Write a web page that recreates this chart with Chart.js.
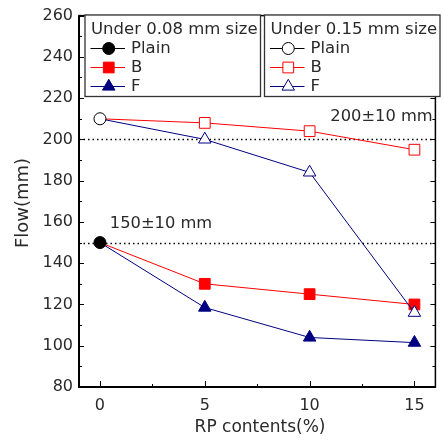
<!DOCTYPE html>
<html>
<head>
<meta charset="utf-8">
<script src="https://cdn.jsdelivr.net/npm/chart.js@4/dist/chart.umd.min.js"></script>
<style>
html,body{margin:0;padding:0;background:#fff;}
#wrap{width:444px;height:441px;}
</style>
</head>
<body>
<div id="wrap"><canvas id="c" width="444" height="441"></canvas></div>
<script>
// ---- data ----
const rpContents = [0, 5, 10, 15];
const xTickLabels = [0, 5, 10, 15];
const yTickLabels = [80, 100, 120, 140, 160, 180, 200, 220, 240, 260];
const plain008 = [150];
const b008 = [150, 130, 125, 120];
const f008 = [150, 118.5, 104, 101.5];
const plain015 = [210];
const b015 = [210, 208, 204, 195];
const f015 = [210, 200, 184, 116];
const targetLines = [200, 150];
const targetLabels = ['200\u00b110 mm', '150\u00b110 mm'];
const legendTitles = ['Under 0.08 mm size', 'Under 0.15 mm size'];
const legendNames = ['Plain', 'B', 'F'];
const xTitle = 'RP contents(%)';
const yTitle = 'Flow(mm)';

const RED = '#ff0000', NAVY = '#000080', BLACK = '#000000';
const FONT = '"DejaVu Sans", sans-serif';
const TXT = '#2a2a2a';

function pts(ys) { return ys.map((y, i) => ({x: rpContents[i], y: y})); }

function drawMarker(ctx, style, x, y, r, fill, stroke) {
  ctx.save();
  ctx.beginPath();
  if (style === 'circle') {
    ctx.arc(x, y, r, 0, Math.PI * 2);
  } else if (style === 'rect') {
    const s = Math.SQRT1_2 * r;
    ctx.rect(x - s, y - s, 2 * s, 2 * s);
  } else if (style === 'triangle') {
    let a = 0;
    ctx.moveTo(x + Math.sin(a) * r, y - Math.cos(a) * r);
    a += 2 * Math.PI / 3;
    ctx.lineTo(x + Math.sin(a) * r, y - Math.cos(a) * r);
    a += 2 * Math.PI / 3;
    ctx.lineTo(x + Math.sin(a) * r, y - Math.cos(a) * r);
    ctx.closePath();
  }
  ctx.fillStyle = fill;
  ctx.fill();
  ctx.lineWidth = 1;
  ctx.strokeStyle = stroke;
  ctx.stroke();
  ctx.restore();
}

const R_CIRCLE = 6, R_RECT = 7.6, R_TRI = 7.2;

const seriesDefs = [
  [
    {style: 'circle', color: BLACK, r: R_CIRCLE},
    {style: 'rect', color: RED, r: R_RECT},
    {style: 'triangle', color: NAVY, r: R_TRI}
  ],
  [
    {style: 'circle', color: BLACK, r: R_CIRCLE},
    {style: 'rect', color: RED, r: R_RECT},
    {style: 'triangle', color: NAVY, r: R_TRI}
  ]
];

// ---- plugins ----
const framePlugin = {
  id: 'frame',
  beforeDatasetsDraw(chart) {
    const {ctx, chartArea: a, scales: {x, y}} = chart;
    ctx.save();
    ctx.strokeStyle = '#000';
    ctx.lineWidth = 1.3;
    ctx.setLineDash([1.5, 3]);
    targetLines.forEach(v => {
      const py = Math.round(y.getPixelForValue(v)) + 0.5;
      ctx.beginPath(); ctx.moveTo(a.left, py); ctx.lineTo(a.right, py); ctx.stroke();
    });
    ctx.setLineDash([]);
    ctx.fillStyle = TXT;
    ctx.font = '16.3px ' + FONT;
    ctx.textBaseline = 'middle';
    ctx.textAlign = 'right';
    ctx.fillText(targetLabels[0], x.getPixelForValue(15.87), y.getPixelForValue(211));
    ctx.textAlign = 'left';
    ctx.fillText(targetLabels[1], x.getPixelForValue(0.47), y.getPixelForValue(159.3));
    ctx.restore();
  },
  afterDraw(chart) {
    const {ctx, chartArea: a, scales: {x, y}} = chart;
    ctx.save();
    ctx.strokeStyle = '#000';
    ctx.lineWidth = 1;
    const xMaj = xTickLabels, xMin = [2.5, 7.5, 12.5];
    const tick = (x1, y1, x2, y2) => { ctx.beginPath(); ctx.moveTo(x1, y1); ctx.lineTo(x2, y2); ctx.stroke(); };
    xMaj.forEach(v => { const px = Math.round(x.getPixelForValue(v)) + 0.5; tick(px, a.bottom, px, a.bottom - 6); tick(px, a.top, px, a.top + 5); });
    xMin.forEach(v => { const px = Math.round(x.getPixelForValue(v)) + 0.5; tick(px, a.bottom, px, a.bottom - 3); tick(px, a.top, px, a.top + 3); });
    for (let v = 80; v <= 260; v += 10) {
      const py = Math.round(y.getPixelForValue(v)) + 0.5;
      const len = (v % 20 === 0) ? 5 : 3;
      tick(a.left, py, a.left + len, py);
      tick(a.right, py, a.right - len, py);
    }
    ctx.lineWidth = 1.5;
    ctx.strokeRect(a.left, a.top, a.right - a.left, a.bottom - a.top);
    ctx.lineWidth = 2;
    tick(a.left, a.top, a.left, a.bottom + 1);
    tick(a.left - 1, a.bottom, a.right, a.bottom);

    // legend boxes
    const boxes = [{l: 85, r: 260.5}, {l: 264.5, r: 440}];
    const top = 15, bottom = 96.5;
    ctx.lineWidth = 1.3;
    ctx.strokeStyle = '#333';
    boxes.forEach((b, gi) => {
      ctx.fillStyle = '#fff';
      ctx.fillRect(b.l, top, b.r - b.l, bottom - top);
      ctx.strokeRect(b.l, top, b.r - b.l, bottom - top);
      ctx.fillStyle = TXT;
      ctx.font = '16.5px ' + FONT;
      ctx.textBaseline = 'middle';
      ctx.textAlign = 'left';
      ctx.fillText(legendTitles[gi], b.l + 6, 29.5);
      const rows = [48.5, 67.5, 86.5];
      seriesDefs[gi].forEach((s, si) => {
        const cy = rows[si];
        const lx1 = b.l + 5.5, lx2 = b.l + 40;
        const cx = (lx1 + lx2) / 2 + 1;
        ctx.strokeStyle = s.color;
        ctx.lineWidth = 1;
        ctx.beginPath(); ctx.moveTo(lx1, cy); ctx.lineTo(lx2, cy); ctx.stroke();
        drawMarker(ctx, s.style, cx, cy, s.r, gi === 0 ? s.color : '#fff', s.color);
        ctx.fillStyle = TXT;
        ctx.fillText(legendNames[si], b.l + 46, cy);
      });
      ctx.strokeStyle = '#333';
      ctx.lineWidth = 1.3;
    });

    // axis titles
    ctx.fillStyle = TXT;
    ctx.font = '17px ' + FONT;
    ctx.textAlign = 'center';
    ctx.textBaseline = 'middle';
    ctx.fillText(xTitle, 260, 428);
    ctx.save();
    ctx.translate(23, 203);
    ctx.rotate(-Math.PI / 2);
    ctx.font = '18px ' + FONT;
    ctx.fillText(yTitle, 0, 0);
    ctx.restore();
    ctx.restore();
  }
};

function ds(label, ys, color, style, r, filled, order, hideFirst) {
  return {
    label: label,
    data: pts(ys),
    showLine: true,
    borderColor: color,
    borderWidth: 1,
    pointStyle: style,
    pointRadius: ys.map((v, i) => (hideFirst && i === 0) ? 0 : r),
    pointHoverRadius: ys.map((v, i) => (hideFirst && i === 0) ? 0 : r),
    pointBackgroundColor: filled ? color : '#ffffff',
    pointBorderColor: color,
    pointBorderWidth: 1,
    backgroundColor: color,
    order: order,
    clip: false
  };
}

new Chart(document.getElementById('c'), {
  type: 'scatter',
  data: {
    datasets: [
      ds('Under 0.08 Plain', plain008, BLACK, 'circle', R_CIRCLE, true, 0, false),
      ds('Under 0.15 Plain', plain015, BLACK, 'circle', R_CIRCLE, false, 1, false),
      ds('Under 0.15 F', f015, NAVY, 'triangle', R_TRI, false, 2, true),
      ds('Under 0.08 B', b008, RED, 'rect', R_RECT, true, 3, true),
      ds('Under 0.08 F', f008, NAVY, 'triangle', R_TRI, true, 4, true),
      ds('Under 0.15 B', b015, RED, 'rect', R_RECT, false, 5, true)
    ]
  },
  options: {
    responsive: false,
    animation: false,
    events: [],
    layout: {padding: {top: 13, right: 1, left: 0, bottom: 0}},
    plugins: {legend: {display: false}, tooltip: {enabled: false}},
    scales: {
      x: {
        type: 'linear', min: -1, max: 16,
        grid: {display: false, drawTicks: false},
        border: {display: false},
        afterBuildTicks: s => { s.ticks = xTickLabels.map(v => ({value: v})); },
        afterFit: s => { s.height = 54; },
        ticks: {padding: 9, color: TXT, font: {family: FONT, size: 16}}
      },
      y: {
        type: 'linear', min: 80, max: 260,
        grid: {display: false, drawTicks: false},
        border: {display: false},
        afterBuildTicks: s => { s.ticks = yTickLabels.map(v => ({value: v})); },
        afterFit: s => { s.width = 79; },
        ticks: {padding: 6, color: TXT, font: {family: FONT, size: 16}}
      }
    }
  },
  plugins: [framePlugin]
});
</script>
</body>
</html>
